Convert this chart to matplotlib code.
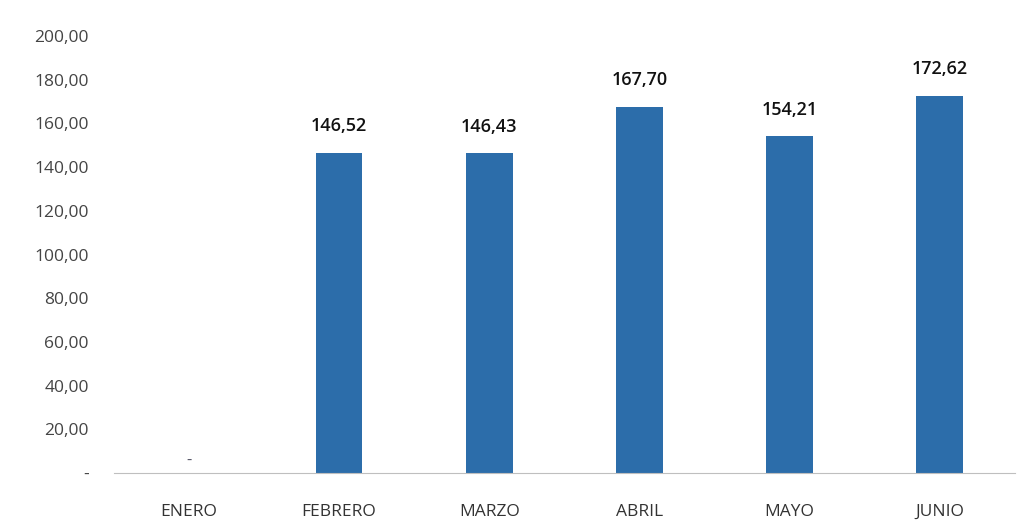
import numpy as np
import matplotlib
matplotlib.use("Agg")
import matplotlib.pyplot as plt

months = ["ENERO", "FEBRERO", "MARZO", "ABRIL", "MAYO", "JUNIO"]
values = [0.0, 146.52, 146.43, 167.70, 154.21, 172.62]
yticks = [0, 20, 40, 60, 80, 100, 120, 140, 160, 180, 200]


def fmt(v):
    if v == 0:
        return "-"
    return f"{v:,.2f}".replace(",", "X").replace(".", ",").replace("X", ".")


plt.rcParams["font.family"] = ["Open Sans", "DejaVu Sans"]

fig = plt.figure(figsize=(10.26, 5.30), dpi=100)
ax = fig.add_axes([0.111, 0.1075, 0.878, 0.8245])

x = np.arange(len(months))
ax.bar(x, values, width=0.31, color="#2C6DAA", zorder=2)

# data labels (0 shown as "-")
for xi, v in zip(x, values):
    if v == 0:
        ax.text(xi, 2, fmt(v), ha="center", va="bottom", fontsize=12,
                color="#555566")
    else:
        ax.text(xi, v + 8, fmt(v), ha="center", va="bottom", fontsize=13,
                fontweight="semibold", color="#111111")

ax.set_xlim(-0.5, len(months) - 0.5)
ax.set_ylim(0, 200)
ax.set_yticks(yticks)
ax.set_yticklabels([fmt(t) for t in yticks], fontsize=12.5, color="#444444")
ax.set_xticks(x)
ax.set_xticklabels(months, fontsize=12.5, color="#333333")

for s in ["top", "right", "left"]:
    ax.spines[s].set_visible(False)
ax.spines["bottom"].set_color("#bfbfbf")
ax.tick_params(axis="y", length=0, pad=18)
ax.tick_params(axis="x", length=0, pad=22)

fig.savefig("out.png", dpi=100, facecolor="white")
